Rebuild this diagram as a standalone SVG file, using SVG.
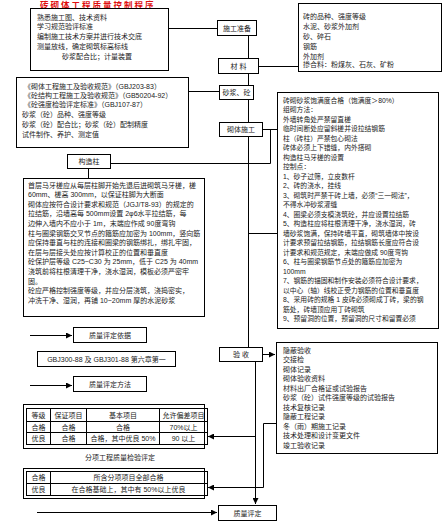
<svg xmlns="http://www.w3.org/2000/svg" width="444" height="528" viewBox="0 0 444 528">
<defs>
<marker id="ah" markerUnits="userSpaceOnUse" markerWidth="6" markerHeight="6" refX="6" refY="3" orient="auto">
<path d="M0,0 L6,3 L0,6 z" fill="#000"/>
</marker>
<style>
.b{fill:#fff;stroke:#000;stroke-width:1}
.l{fill:none;stroke:#000;stroke-width:1}
.t{font-family:"Liberation Sans","Noto Sans CJK SC",sans-serif;font-size:7px;fill:#222}
.s{font-size:6.8px}
.c{text-anchor:middle}
.ti{font-family:"Liberation Sans","Noto Sans CJK SC",sans-serif;font-size:8.5px;font-weight:bold;fill:#e01010;letter-spacing:2px}
</style>
</defs>
<rect width="444" height="528" fill="#fff"/>
<text class="ti" x="40" y="7.5">砖砌体工程质量控制程序</text>

<g id="connectors">
<path class="l" d="M168.5,28.5 H217"/>
<path class="l" d="M248.5,36 V58"/>
<path class="l" d="M259,66.5 H298"/>
<path class="l" d="M248.5,74 V85"/>
<path class="l" d="M189,91.5 H219"/>
<path class="l" d="M248.5,99 V122"/>
<path class="l" d="M262,129.5 H277"/>
<path class="l" d="M270.5,129.5 V163.5 H110"/>
<path class="l" d="M88.5,168 V178"/>
<path class="l" d="M248.5,136 V347"/>
<path class="l" d="M248.5,233.5 H277"/>
<path class="l" d="M263,354.5 H275" marker-end="url(#ah)"/>
<path class="l" d="M255.5,361 V504" marker-end="url(#ah)"/>
<path class="l" d="M255.5,436.5 H208" marker-end="url(#ah)"/>
<path class="l" d="M276,423.5 H263.5 V487.5 H208" marker-end="url(#ah)"/>
<path class="l" d="M30,335.5 H72" marker-end="url(#ah)"/>
<path class="l" d="M30,385.5 H72" marker-end="url(#ah)"/>
<path class="l" d="M37,512.5 H217" marker-end="url(#ah)"/>
</g>

<g id="prep-notes">
<rect class="b" x="30.5" y="8.5" width="138" height="62"/>
<text class="t" x="37" y="19.5">熟悉施工图、技术资料</text>
<text class="t" x="37" y="28.5">学习规范验评标准</text>
<text class="t" x="37" y="38.5">编制施工技术方案并进行技术交底</text>
<text class="t" x="37" y="48.5">测量放线，确定砌筑标高标线</text>
<text class="t" x="62" y="59">砂浆配合比；计量装置</text>
</g>

<g id="n-prep">
<rect class="b" x="217.5" y="20.5" width="39" height="15"/>
<text class="t c" x="237" y="30.5">施工准备</text>
</g>

<g id="n-material">
<rect class="b" x="218.5" y="58.5" width="40" height="15"/>
<text class="t c" x="238.5" y="68.5">材  料</text>
</g>

<g id="material-notes">
<rect class="b" x="298.5" y="3.5" width="143" height="68"/>
<text class="t" x="303" y="18.5">砖的品种、强度等级</text>
<text class="t" x="303" y="29">水泥、砂浆外加剂</text>
<text class="t" x="303" y="39">砂、碎石</text>
<text class="t" x="303" y="49">钢筋</text>
<text class="t" x="303" y="58.5">外加剂</text>
<text class="t" x="303" y="67">掺合料：粉煤灰、石灰、矿粉</text>
</g>

<g id="spec-notes">
<rect class="b" x="16.5" y="77.5" width="172" height="70"/>
<text class="t" x="24" y="88.5">《砌体工程施工及验收规范》（GBJ203-83）</text>
<text class="t" x="24" y="98">《砼结构工程施工及验收规范》（GB50204-92）</text>
<text class="t" x="24" y="107">《砼强度检验评定标准》（GBJ107-87）</text>
<text class="t" x="22" y="116.5">砂浆（砼）品种、强度等级</text>
<text class="t" x="22" y="127">砂浆（砼）配合比；砂浆（砼）配制精度</text>
<text class="t" x="22" y="137">试件制作、养护、测定值</text>
</g>

<g id="n-mortar">
<rect class="b" x="219.5" y="85.5" width="34" height="14"/>
<text class="t c" x="236.5" y="95">砂浆、砼</text>
</g>

<g id="n-masonry">
<rect class="b" x="219.5" y="122.5" width="43" height="14"/>
<text class="t c" x="241" y="132">砌体施工</text>
</g>

<g id="masonry-notes">
<rect class="b" x="277.5" y="92.5" width="161" height="236"/>
<text class="t s" x="283" y="102.5">砖砌砂浆饱满度合格（饱满度＞80%）</text>
<text class="t s" x="283" y="112">组砌方法：</text>
<text class="t s" x="283" y="121.5">外墙转角处严禁留直槎</text>
<text class="t s" x="283" y="131">临时间断处应留斜槎并设拉结钢筋</text>
<text class="t s" x="283" y="140.5">柱（砖柱）严禁包心砌法</text>
<text class="t s" x="283" y="150">砖体必须上下错缝，内外搭砌</text>
<text class="t s" x="283" y="159.5">构造柱马牙槎的设置</text>
<text class="t s" x="283" y="169">控制点：</text>
<text class="t s" x="283" y="178.5">1、砂子过筛，立皮数杆</text>
<text class="t s" x="283" y="188">2、砖的浇水，挂线</text>
<text class="t s" x="283" y="197.5">3、砌筑时严禁干砖上墙，必须“三一砌法”，</text>
<text class="t s" x="283" y="207">不得水冲砂浆灌缝</text>
<text class="t s" x="283" y="216.5">4、圈梁必须支模浇筑砼，并应设置拉结筋</text>
<text class="t s" x="283" y="226">5、构造柱应将柱根清理干净，浇水湿润，砖</text>
<text class="t s" x="283" y="235.5">墙砂浆饱满，保持砖墙平直，砌筑墙体中按设</text>
<text class="t s" x="283" y="245">计要求预留拉结钢筋，拉结钢筋长度应符合设</text>
<text class="t s" x="283" y="254.5">计要求和规范规定，末端应做成 90度弯钩</text>
<text class="t s" x="283" y="264">6、柱与圈梁钢筋节点处的箍筋应加密为</text>
<text class="t s" x="283" y="273.5">100mm</text>
<text class="t s" x="283" y="283">7、钢筋的锚固和制作安装必须符合设计要求，</text>
<text class="t s" x="283" y="292.5">以中心（轴）线校正受力钢筋的位置和垂直度</text>
<text class="t s" x="283" y="302">8、采用砖的规格 1 皮砖必须砌成丁砖，梁的钢</text>
<text class="t s" x="283" y="311.5">筋处，砖墙顶应用丁砖砌筑</text>
<text class="t s" x="283" y="321">9、预留洞的位置，预留洞的尺寸和留置必须</text>
</g>

<g id="n-column">
<rect class="b" x="67.5" y="154.5" width="43" height="14"/>
<text class="t c" x="89" y="164">构造柱</text>
</g>

<g id="column-notes">
<rect class="b" x="23.5" y="178.5" width="181" height="138"/>
<text class="t" x="28" y="187.5">首层马牙槎应从每层柱脚开始先退后进砌筑马牙槎，槎</text>
<text class="t" x="28" y="197">60mm、槎高 300mm，以保证柱脚为大断面</text>
<text class="t" x="28" y="206.5">砌体应按符合设计要求和规范（JGJ/T8-93）的规定的</text>
<text class="t" x="28" y="216">拉结筋，沿墙高每 500mm设置 2φ6水平拉结筋，每</text>
<text class="t" x="28" y="226">边伸入墙内不应小于 1m，末端应作成 90度弯钩</text>
<text class="t" x="28" y="235.5">柱与圈梁钢筋交叉节点的箍筋应加密为 100mm，竖向筋</text>
<text class="t" x="28" y="245">应保持垂直与柱的连接和圈梁的钢筋绑扎，绑扎牢固，</text>
<text class="t" x="28" y="254.5">在层与层接头处应按计算校正的位置和垂直度</text>
<text class="t" x="28" y="264">砼保护层等级 C25~C30 为 25mm，低于 C25 为 40mm</text>
<text class="t" x="28" y="274">浇筑前将柱根清理干净，浇水湿润，模板必须严密牢</text>
<text class="t" x="28" y="283.5">固。</text>
<text class="t" x="28" y="293">砼应严格控制强度等级，并应分层浇筑，浇捣密实，</text>
<text class="t" x="28" y="303">冲洗干净、湿润，再铺 10~20mm 厚的水泥砂浆</text>
</g>

<g id="n-basis">
<rect class="b" x="73.5" y="327.5" width="73" height="15"/>
<text class="t c" x="110" y="337.5">质量评定依据</text>
</g>

<g id="n-gbj">
<rect class="b" x="37.5" y="351.5" width="138" height="15"/>
<text class="t c" x="106.5" y="361.5">GBJ300-88 及 GBJ301-88 第六章第一</text>
</g>

<g id="n-method">
<rect class="b" x="73.5" y="376.5" width="73" height="15"/>
<text class="t c" x="110" y="386.5">质量评定方法</text>
</g>

<g id="n-accept">
<rect class="b" x="219.5" y="347.5" width="43" height="14"/>
<text class="t c" x="241" y="357">验  收</text>
</g>

<g id="accept-notes">
<rect class="b" x="276.5" y="342.5" width="161" height="111"/>
<text class="t" x="283" y="352.5">隐蔽验收</text>
<text class="t" x="283" y="362">交接检</text>
<text class="t" x="283" y="371.5">砌体记录</text>
<text class="t" x="283" y="381">砌体验收资料</text>
<text class="t" x="283" y="390.5">材料出厂合格证或试验报告</text>
<text class="t" x="283" y="400">砂浆（砼）试件强度等级的试验报告</text>
<text class="t" x="283" y="409.5">技术复核记录</text>
<text class="t" x="283" y="419">隐蔽工程记录</text>
<text class="t" x="283" y="428.5">冬（雨）期施工记录</text>
<text class="t" x="283" y="438">技术处理和设计变更文件</text>
<text class="t" x="283" y="447.5">竣工验收记录</text>
</g>

<g id="table-item">
<rect class="l" x="23.5" y="404.5" width="181" height="44"/>
<rect class="l" x="26.5" y="408.5" width="181" height="36"/>
<path class="l" d="M26.5,421.5 H207.5 M26.5,432.5 H207.5 M50.5,408.5 V444.5 M86.5,408.5 V444.5 M159.5,408.5 V444.5"/>
<text class="t c" x="38.5" y="417.5">等级</text>
<text class="t c" x="68.5" y="417.5">保证项目</text>
<text class="t c" x="123" y="417.5">基本项目</text>
<text class="t c" x="183.5" y="417.5">允许偏差项目</text>
<text class="t c" x="38.5" y="429.5">合格</text>
<text class="t c" x="68.5" y="429.5">合格</text>
<text class="t c" x="123" y="429.5">合格</text>
<text class="t c" x="183.5" y="429.5">70%以上</text>
<text class="t c" x="38.5" y="441">优良</text>
<text class="t c" x="68.5" y="441">合格</text>
<text class="t c" x="123" y="441">合格，其中优良 50%</text>
<text class="t c" x="183.5" y="441">90 以上</text>
</g>

<text class="t c" x="120" y="459.5">分项工程质量检验评定</text>

<g id="table-division">
<rect class="l" x="23.5" y="468.5" width="181" height="30"/>
<rect class="l" x="26.5" y="471.5" width="181" height="24"/>
<path class="l" d="M26.5,483.5 H207.5 M50.5,471.5 V495.5"/>
<text class="t c" x="38.5" y="480">合格</text>
<text class="t c" x="128.5" y="480">所含分项项目全部合格</text>
<text class="t c" x="38.5" y="492">优良</text>
<text class="t c" x="128.5" y="492">在合格基础上，其中有 50%以上优良</text>
</g>

<g id="n-eval">
<rect class="b" x="218.5" y="505.5" width="58" height="15"/>
<text class="t c" x="247.5" y="515.5">质量评定</text>
</g>
</svg>
